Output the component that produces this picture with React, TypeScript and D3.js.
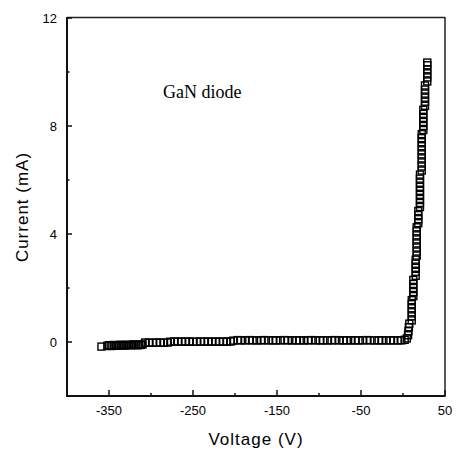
import React, { useEffect, useRef } from 'react';
import * as d3 from 'd3';

// reverse / leakage branch (V, mA)
const reverseVoltage = [
  -359, -352, -350, -348, -346, -344, -342, -340, -338, -336, -334, -332, -330, -328, -326, -324, -322, -320, -318,
  -316, -314, -312, -310,
  -307, -302.5, -298, -293.5, -289, -284.5, -280,
  -277, -272.5, -268, -263.5, -259, -254.5, -250, -245.5, -241, -236.5, -232, -227.5, -223, -218.5, -214, -209.5, -205,
  -202, -197, -193, -188, -183, -179, -174, -169, -165, -160, -155, -151, -146, -141, -137, -132, -127, -123, -118,
  -113, -109, -104, -99, -95, -90, -85, -81, -76, -71, -67, -62, -57, -53, -48, -43, -39, -34, -29, -25, -20, -15,
  -11, -6, -2,
];
const reverseCurrent = [
  -0.17, -0.14, -0.12, -0.15, -0.13, -0.11, -0.14, -0.12, -0.13, -0.1, -0.12, -0.13, -0.11, -0.12, -0.1, -0.12,
  -0.11, -0.09, -0.11,
  -0.12, -0.1, -0.11, -0.09,
  -0.02, -0.02, -0.03, -0.02, -0.02, -0.03, -0.02,
  0.01, 0.02, 0.01, 0.02, 0.01, 0.02, 0.01, 0.01, 0.02, 0.01, 0.02, 0.01, 0.02, 0.01, 0.02, 0.01, 0.02,
  0.05, 0.07, 0.06, 0.06, 0.07, 0.06, 0.06, 0.06, 0.07, 0.06, 0.06, 0.06, 0.06, 0.07, 0.06, 0.06, 0.06, 0.06, 0.06,
  0.06, 0.07, 0.06, 0.06, 0.06, 0.06, 0.06, 0.07, 0.06, 0.06, 0.06, 0.06, 0.06, 0.06, 0.06, 0.07, 0.06, 0.06, 0.06,
  0.06, 0.06, 0.06,
  0.06, 0.06, 0.06,
];

// forward branch
const forwardVoltage = [
  2, 4.5, 6, 6.5, 7, 7.5,
  10.4, 10.4, 10.4, 10.4, 10.4, 10.4,
  12.3, 12.3, 12.3, 12.3, 12.3,
  15.1, 15.1, 15.1, 15.1, 15.1,
  16.3, 16.3, 16.3, 16.3, 16.3, 16.3, 16.3, 16.3,
  18.2, 18.2, 18.2, 18.2,
  20.2, 20.2, 20.2, 20.2, 20.2, 20.2, 20.2, 20.2, 20.2,
  22.3, 22.3, 22.3, 22.3, 22.3, 22.3, 22.3, 22.3, 22.3, 22.3,
  24.2, 24.2, 24.2, 24.2, 24.2, 24.2,
  26.2, 26.2, 26.2, 26.2, 26.2, 26.2,
  28.9, 28.9, 28.9, 28.9, 28.9, 28.9,
];
const forwardCurrent = [
  0.08, 0.13, 0.25, 0.4, 0.55, 0.68,
  0.8, 0.95, 1.1, 1.25, 1.4, 1.55,
  1.7, 1.85, 2.0, 2.15, 2.3,
  2.45, 2.6, 2.75, 2.9, 3.05,
  3.2, 3.35, 3.5, 3.65, 3.8, 3.95, 4.1, 4.25,
  4.4, 4.55, 4.7, 4.85,
  5.0, 5.15, 5.3, 5.45, 5.6, 5.75, 5.9, 6.05, 6.2,
  6.35, 6.5, 6.65, 6.8, 6.95, 7.1, 7.25, 7.4, 7.55, 7.7,
  7.85, 8.0, 8.15, 8.3, 8.45, 8.6,
  8.75, 8.9, 9.05, 9.2, 9.35, 9.5,
  9.65, 9.8, 9.95, 10.1, 10.25, 10.35,
];

const xTicks = [-350, -250, -150, -50, 50];
const xMinorTicks = [-300, -200, -100, 0];
const yTicks = [0, 4, 8, 12];
const yMinorTicks = [10, 6, 2];

const W = 456;
const H = 453;

export default function App() {
  const svgRef = useRef<SVGSVGElement | null>(null);

  useEffect(() => {
    if (!svgRef.current) return;
    const svg = d3.select(svgRef.current);
    svg.selectAll('*').remove();

    const x = d3.scaleLinear().domain([-400, 50]).range([67, 445]);
    const y = d3.scaleLinear().domain([-2, 12]).range([396, 18]);
    const [x0, x1] = x.range();
    const [y0, y1] = y.range();

    const n1 = Math.min(reverseVoltage.length, reverseCurrent.length);
    const n2 = Math.min(forwardVoltage.length, forwardCurrent.length);
    const points = [
      ...reverseVoltage.slice(0, n1).map((v, i) => ({ v, c: reverseCurrent[i] })),
      ...forwardVoltage.slice(0, n2).map((v, i) => ({ v, c: forwardCurrent[i] })),
    ];

    // markers
    const ms = 7;
    svg.append('g')
      .selectAll('rect')
      .data(points)
      .join('rect')
      .attr('x', (d) => x(d.v) - ms / 2)
      .attr('y', (d) => y(d.c) - ms / 2)
      .attr('width', ms)
      .attr('height', ms)
      .attr('fill', 'none')
      .attr('stroke', '#000')
      .attr('stroke-width', 1.4);

    // frame
    svg.append('line').attr('x1', x0).attr('x2', x0).attr('y1', y1 - 1).attr('y2', y0 + 1)
      .attr('stroke', '#111').attr('stroke-width', 2);
    svg.append('line').attr('x1', x0).attr('x2', x1).attr('y1', y0).attr('y2', y0)
      .attr('stroke', '#111').attr('stroke-width', 2);
    svg.append('line').attr('x1', x0).attr('x2', x1).attr('y1', y1 - 0.5).attr('y2', y1 - 0.5)
      .attr('stroke', '#222').attr('stroke-width', 1.5);
    svg.append('line').attr('x1', x1).attr('x2', x1).attr('y1', y1 - 1).attr('y2', y0 + 1)
      .attr('stroke', '#222').attr('stroke-width', 1.5);

    // ticks (inward)
    const tk = svg.append('g').attr('stroke', '#111').attr('stroke-width', 1.5);
    xTicks.forEach((t) => tk.append('line').attr('x1', x(t)).attr('x2', x(t)).attr('y1', y0).attr('y2', y0 - 6));
    xMinorTicks.forEach((t) => tk.append('line').attr('x1', x(t)).attr('x2', x(t)).attr('y1', y0).attr('y2', y0 - 3));
    yTicks.forEach((t) => tk.append('line').attr('x1', x0).attr('x2', x0 + 5).attr('y1', y(t)).attr('y2', y(t)));
    yMinorTicks.forEach((t) => tk.append('line').attr('x1', x0).attr('x2', x0 + 2.5).attr('y1', y(t)).attr('y2', y(t)));

    const font = '"Liberation Sans", Arial, sans-serif';

    svg.append('g')
      .selectAll('text')
      .data(xTicks)
      .join('text')
      .attr('x', (d) => x(d))
      .attr('y', y0 + 19)
      .attr('text-anchor', 'middle')
      .attr('font-family', font)
      .attr('font-size', 13)
      .attr('fill', '#000')
      .text((d) => String(d));

    svg.append('g')
      .selectAll('text')
      .data(yTicks)
      .join('text')
      .attr('x', x0 - 10)
      .attr('y', (d) => y(d) + 4.5)
      .attr('text-anchor', 'end')
      .attr('font-family', font)
      .attr('font-size', 13)
      .attr('fill', '#000')
      .text((d) => String(d));

    svg.append('text')
      .attr('x', (x0 + x1) / 2)
      .attr('y', 445)
      .attr('text-anchor', 'middle')
      .attr('font-family', font)
      .attr('font-size', 17)
      .attr('letter-spacing', 1)
      .attr('fill', '#000')
      .text('Voltage (V)');

    svg.append('text')
      .attr('transform', `translate(28,${(y0 + y1) / 2}) rotate(-90)`)
      .attr('text-anchor', 'middle')
      .attr('font-family', font)
      .attr('font-size', 17)
      .attr('letter-spacing', 1)
      .attr('fill', '#000')
      .text('Current (mA)');

    svg.append('text')
      .attr('x', 163)
      .attr('y', 98)
      .attr('font-family', '"Liberation Serif", "Times New Roman", serif')
      .attr('font-size', 18)
      .attr('fill', '#000')
      .text('GaN diode');
  }, []);

  return (
    <div style={{ position: 'absolute', left: 0, top: 0, width: W, height: H, background: '#fff' }}>
      <svg ref={svgRef} width={W} height={H} style={{ display: 'block' }} />
    </div>
  );
}
